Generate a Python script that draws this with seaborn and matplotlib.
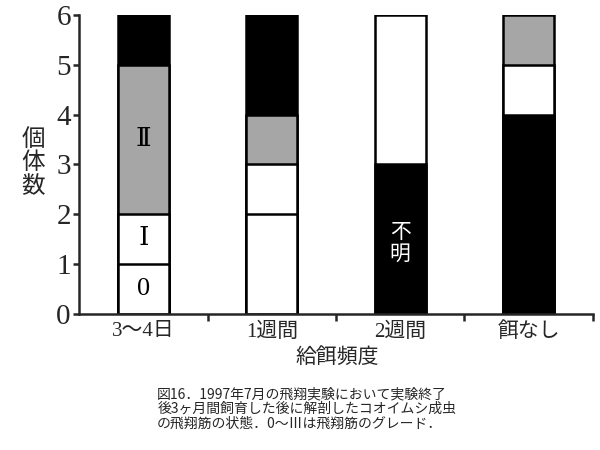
import matplotlib
matplotlib.use("Agg")
import matplotlib.pyplot as plt
import seaborn as sns
import pandas as pd

# categories on the x axis
categories = ["3～4日", "1週間", "2週間", "餌なし"]

# stacked segments per bar, from bottom to top
seg_heights = [
    [1, 1, 3, 1],
    [2, 1, 1, 2],
    [3, 3],
    [4, 1, 1],
]
seg_colors = [
    ["white", "white", "#a6a6a6", "black"],
    ["white", "white", "#a6a6a6", "black"],
    ["black", "white"],
    ["black", "white", "#a6a6a6"],
]

# labels written inside segments: (bar index, y value, text, colour)
seg_labels = [
    (0, 0.5, "0", "black"),
    (0, 1.5, "Ⅰ", "black"),
    (0, 3.5, "Ⅱ", "black"),
    (2, 1.4, "不\n明", "white"),
]

y_ticks = [0, 1, 2, 3, 4, 5, 6]
y_label = "個\n体\n数"
x_label = "給餌頻度"
caption = ("図16．1997年7月の飛翔実験において実験終了\n"
           "後3ヶ月間飼育した後に解剖したコオイムシ成虫\n"
           "の飛翔筋の状態．0～Ⅲは飛翔筋のグレード．")

sns.set_style("ticks")
serif_jp = ["Liberation Serif", "DejaVu Serif", "Noto Sans CJK JP"]
plt.rcParams["font.family"] = serif_jp

fig = plt.figure(figsize=(6, 4.5), dpi=100)
ax = fig.add_axes([0.132, 0.302, 0.856, 0.665])

# build cumulative layers and draw from the top layer down
n_layers = max(len(s) for s in seg_heights)
for layer in range(n_layers - 1, -1, -1):
    rows = []
    pal = {c: "white" for c in categories}
    for i, cat in enumerate(categories):
        if layer < len(seg_heights[i]):
            rows.append({"cat": cat, "top": sum(seg_heights[i][:layer + 1])})
            pal[cat] = seg_colors[i][layer]
    df = pd.DataFrame(rows)
    sns.barplot(data=df, x="cat", y="top", hue="cat", palette=pal,
                order=categories, hue_order=categories, legend=False,
                width=0.4, edgecolor="black", linewidth=1.8,
                saturation=1, dodge=False, ax=ax)

for bi, yv, txt, col in seg_labels:
    ax.text(bi, yv, txt, ha="center", va="center", color=col,
            fontsize=19 if txt != "不\n明" else 15, family=serif_jp,
            linespacing=1.15)

ax.set_xlim(-0.5, 3.5)
ax.set_ylim(0, 6)
ax.set_yticks(y_ticks)
ax.set_yticklabels([str(t) for t in y_ticks], fontsize=21)
ax.set_xticks([0.5, 1.5, 2.5, 3.5])
ax.set_xticklabels([])
ax.set_xticks(range(len(categories)), minor=True)
ax.set_xticklabels(categories, minor=True, fontsize=15, family=serif_jp)
ax.tick_params(axis="x", which="minor", length=0, pad=6)
ax.tick_params(axis="x", which="major", length=5, width=1.8, direction="out")
ax.tick_params(axis="y", length=4, width=1.8, direction="out", pad=2)
ax.set_xlabel("")
ax.set_ylabel("")
for side in ["top", "right"]:
    ax.spines[side].set_visible(False)
for side in ["left", "bottom"]:
    ax.spines[side].set_linewidth(1.8)

fig.text(0.055, 0.638, y_label, ha="center", va="center", fontsize=17,
         family=["Noto Sans CJK JP"], linespacing=1.05)
fig.text(0.562, 0.205, x_label, ha="center", va="center", fontsize=15,
         family=serif_jp)
fig.text(0.262, 0.091, caption, ha="left", va="center", fontsize=10,
         family=["Noto Sans CJK JP", "DejaVu Sans"], linespacing=1.05)

fig.savefig("out.png", dpi=100)
